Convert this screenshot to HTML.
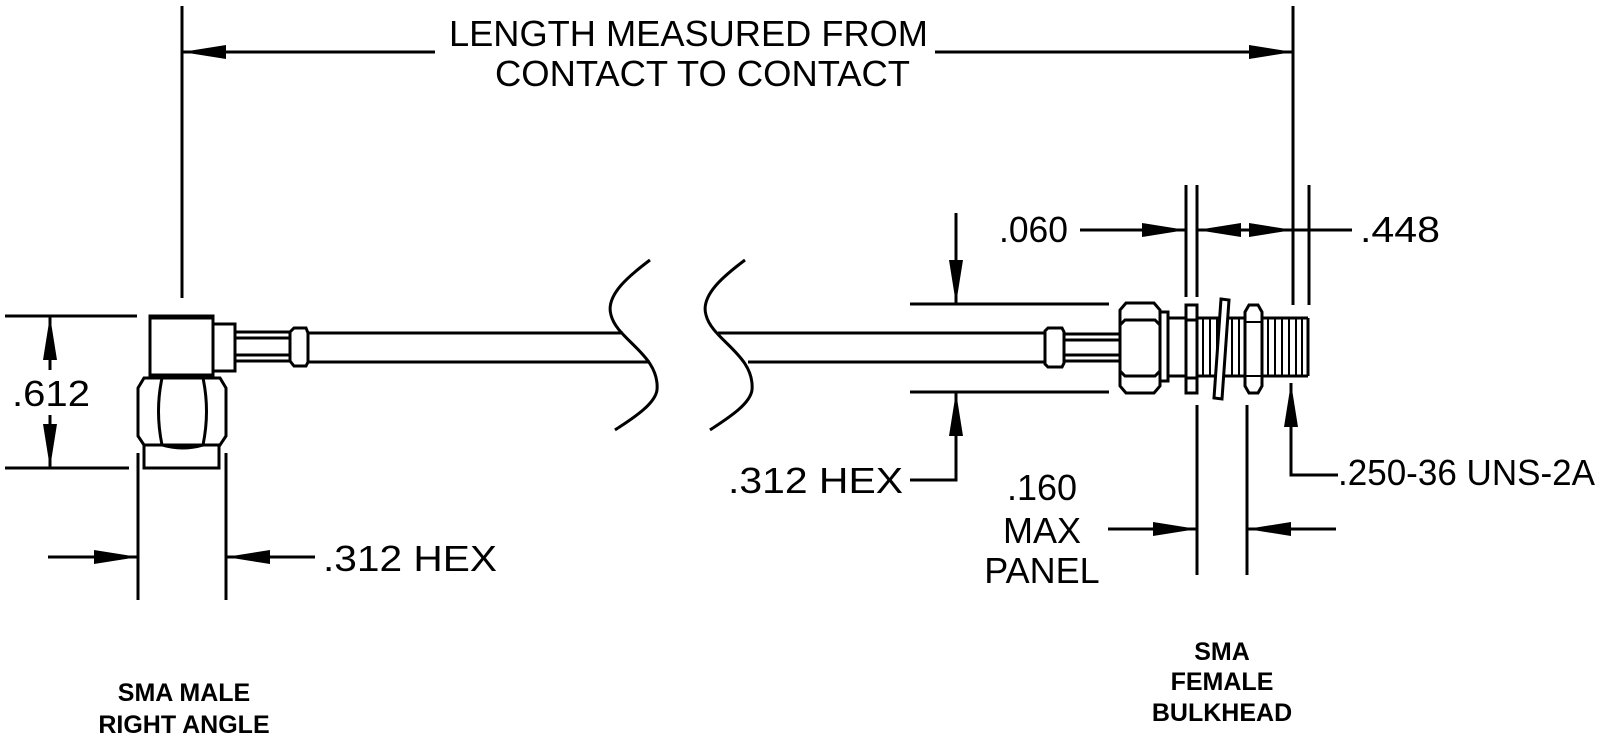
<!DOCTYPE html>
<html><head><meta charset="utf-8"><style>
html,body{margin:0;padding:0;background:#fff;}
svg{display:block;}
.t{font-family:"Liberation Sans",sans-serif;font-size:36px;fill:#000;}
.b{font-family:"Liberation Sans",sans-serif;font-size:25px;font-weight:bold;fill:#000;text-anchor:middle;}
</style></head><body>
<svg width="1600" height="742" viewBox="0 0 1600 742" xmlns="http://www.w3.org/2000/svg">
<defs>
<marker id="a" viewBox="0 0 44 16" refX="44" refY="8" markerWidth="44" markerHeight="16" markerUnits="userSpaceOnUse" orient="auto-start-reverse"><path d="M0,1 L44,8 L0,15 Z" fill="#000"/></marker>
</defs>
<g stroke="#000" stroke-width="3" fill="none">
<line x1="182" y1="6" x2="182" y2="298"/>
<line x1="1293" y1="6" x2="1293" y2="305"/>
<line x1="182" y1="52" x2="435" y2="52" marker-start="url(#a)"/>
<line x1="935" y1="52" x2="1293" y2="52" marker-end="url(#a)"/>

<line x1="5" y1="316" x2="137" y2="316"/>
<line x1="5" y1="468" x2="129" y2="468"/>
<line x1="50" y1="370" x2="50" y2="316" marker-end="url(#a)"/>
<line x1="50" y1="415" x2="50" y2="468" marker-end="url(#a)"/>

<line x1="138" y1="453" x2="138" y2="600"/>
<line x1="226" y1="453" x2="226" y2="600"/>
<line x1="48" y1="557" x2="138" y2="557" marker-end="url(#a)"/>
<line x1="315" y1="557" x2="226" y2="557" marker-end="url(#a)"/>

<rect x="150" y="316" width="63" height="62"/>
<line x1="150" y1="317" x2="213" y2="317" stroke-width="5"/>
<line x1="150" y1="376" x2="213" y2="376" stroke-width="5"/>
<rect x="213" y="324" width="22" height="47"/>
<line x1="235" y1="332" x2="290" y2="332"/>
<line x1="235" y1="338" x2="290" y2="338"/>
<line x1="235" y1="355" x2="290" y2="355"/>
<line x1="235" y1="361" x2="290" y2="361"/>
<path d="M290,332 L294,328 L306,328 L308,333 L308,362 L306,366 L294,366 L290,361 Z"/>
<line x1="308" y1="333" x2="623" y2="333"/>
<line x1="308" y1="362" x2="650" y2="362"/>
<path d="M144,378 L220,378 L226,388 L226,436 L220,445 L144,445 L138,436 L138,388 Z"/>
<path d="M162,378 Q155,411 162,445 M203,378 Q210,411 203,445 M162,378 Q182,372 203,378 M162,445 Q182,451 203,445"/>
<rect x="144" y="445" width="75" height="23"/>

<path d="M650,260 C630,275 605,295 611,315 C617,340 660,355 657,390 C655,405 630,420 615,430"/>
<path d="M745,260 C725,275 700,295 706,315 C712,340 755,355 752,390 C750,405 725,420 710,430"/>

<line x1="718" y1="333" x2="1045" y2="333"/>
<line x1="748" y1="362" x2="1045" y2="362"/>
<path d="M1045,331 L1048,328 L1062,328 L1064,332 L1064,363 L1062,367 L1048,367 L1045,364 Z"/>
<line x1="1064" y1="334" x2="1120" y2="334"/>
<line x1="1064" y1="340" x2="1120" y2="340"/>
<line x1="1064" y1="355" x2="1120" y2="355"/>
<line x1="1064" y1="361" x2="1120" y2="361"/>
<path d="M1126,303 L1154,303 L1160,310 L1160,386 L1154,393 L1126,393 L1120,386 L1120,310 Z"/>
<path d="M1120,325 L1125,320 L1155,320 L1160,325 M1120,371 L1125,376 L1155,376 L1160,371"/>
<rect x="1160" y="312" width="8" height="69"/>
<rect x="1168" y="318" width="18" height="58"/>
<rect x="1186" y="305" width="11" height="88"/>
<line x1="1186" y1="320" x2="1197" y2="320"/>
<line x1="1186" y1="378" x2="1197" y2="378"/>
<path d="M1197,318 L1197,376 M1197,318 L1308,318 M1197,376 L1308,376 M1308,318 L1308,376"/>
<path d="M1203,318 L1203,376 M1210,318 L1210,376 M1217,318 L1217,376 M1232,318 L1232,376 M1239,318 L1239,376 M1268,318 L1268,376 M1275,318 L1275,376 M1282,318 L1282,376 M1289,318 L1289,376 M1296,318 L1296,376 M1302,318 L1302,376" stroke-width="2"/>
<path d="M1221,299 L1229,300 L1222,399 L1214,398 Z" fill="#fff"/>
<path d="M1249,305 L1258,305 L1262,312 L1262,386 L1258,393 L1249,393 L1245,386 L1245,312 Z" fill="#fff"/>
<path d="M1245,322 L1262,322 M1245,376 L1262,376" stroke-width="2"/>

<line x1="1186" y1="185" x2="1186" y2="297"/>
<line x1="1197" y1="185" x2="1197" y2="297"/>
<line x1="1309" y1="185" x2="1309" y2="305"/>
<line x1="1080" y1="230" x2="1186" y2="230" marker-end="url(#a)"/>
<line x1="1245" y1="230" x2="1197" y2="230" marker-end="url(#a)"/>
<line x1="1245" y1="230" x2="1293" y2="230" marker-end="url(#a)"/>
<line x1="1293" y1="230" x2="1352" y2="230"/>

<line x1="910" y1="304" x2="1109" y2="304"/>
<line x1="910" y1="392" x2="1109" y2="392"/>
<line x1="956" y1="213" x2="956" y2="304" marker-end="url(#a)"/>
<polyline points="910,480 956,480 956,392" marker-end="url(#a)"/>

<line x1="1197" y1="405" x2="1197" y2="575"/>
<line x1="1247" y1="405" x2="1247" y2="575"/>
<line x1="1108" y1="529" x2="1197" y2="529" marker-end="url(#a)"/>
<line x1="1336" y1="529" x2="1247" y2="529" marker-end="url(#a)"/>

<polyline points="1338,475 1291,475 1291,383" marker-end="url(#a)"/>
</g>

<text class="t" x="449" y="46" textLength="479" lengthAdjust="spacingAndGlyphs">LENGTH MEASURED FROM</text>
<text class="t" x="495" y="86" textLength="415" lengthAdjust="spacingAndGlyphs">CONTACT TO CONTACT</text>
<text class="t" x="12" y="406" textLength="78" lengthAdjust="spacingAndGlyphs">.612</text>
<text class="t" x="323" y="571" textLength="174" lengthAdjust="spacingAndGlyphs">.312 HEX</text>
<text class="t" x="728" y="493" textLength="175" lengthAdjust="spacingAndGlyphs">.312 HEX</text>
<text class="t" x="999" y="242" textLength="69" lengthAdjust="spacingAndGlyphs">.060</text>
<text class="t" x="1360" y="242" textLength="80" lengthAdjust="spacingAndGlyphs">.448</text>
<text class="t" x="1338" y="485" textLength="257" lengthAdjust="spacingAndGlyphs">.250-36 UNS-2A</text>
<text class="t" x="1042" y="500" text-anchor="middle">.160</text>
<text class="t" x="1042" y="543" text-anchor="middle">MAX</text>
<text class="t" x="1042" y="583" text-anchor="middle">PANEL</text>

<text class="b" x="184" y="701">SMA MALE</text>
<text class="b" x="184" y="733">RIGHT ANGLE</text>
<text class="b" x="1222" y="660">SMA</text>
<text class="b" x="1222" y="690">FEMALE</text>
<text class="b" x="1222" y="721">BULKHEAD</text>
</svg>
</body></html>
